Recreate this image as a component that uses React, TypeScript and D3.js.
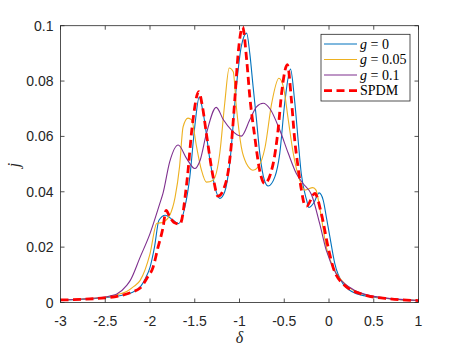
import React from "react";
import * as d3 from "d3";

type Pt = [number, number];

const xTicks = [-3, -2.5, -2, -1.5, -1, -0.5, 0, 0.5, 1];
const yTicks = [0, 0.02, 0.04, 0.06, 0.08, 0.1];

const g0: Pt[] = [
  [-3.0, 0.0009], [-2.75, 0.0012], [-2.5, 0.0017], [-2.3, 0.0027], [-2.2, 0.0036], [-2.1, 0.006],
  [-2.05, 0.0088], [-2.0, 0.0127], [-1.95, 0.02], [-1.9, 0.0297], [-1.83, 0.0315], [-1.74, 0.0297],
  [-1.685, 0.0285], [-1.61, 0.0345], [-1.555, 0.0454], [-1.5, 0.0635], [-1.45, 0.0742], [-1.405, 0.0684],
  [-1.33, 0.0514], [-1.275, 0.0418], [-1.22, 0.0376], [-1.165, 0.04], [-1.11, 0.05], [-1.035, 0.078],
  [-0.98, 0.0925], [-0.92, 0.0973], [-0.885, 0.09], [-0.848, 0.078], [-0.81, 0.066], [-0.774, 0.054],
  [-0.72, 0.044], [-0.68, 0.0421], [-0.605, 0.0454], [-0.55, 0.0539], [-0.495, 0.072], [-0.43, 0.0843],
  [-0.385, 0.0732], [-0.345, 0.0587], [-0.31, 0.0466], [-0.25, 0.037], [-0.225, 0.0343], [-0.17, 0.036],
  [-0.11, 0.0396], [-0.065, 0.037], [-0.025, 0.03], [0.01, 0.0237], [0.065, 0.014], [0.155, 0.0068],
  [0.305, 0.0032], [0.565, 0.0017], [1.0, 0.0007],
];

const g005: Pt[] = [
  [-3.0, 0.0009], [-2.5, 0.0019], [-2.35, 0.003], [-2.26, 0.004], [-2.18, 0.0058], [-2.11, 0.008],
  [-2.0, 0.0176], [-1.925, 0.0285], [-1.855, 0.029], [-1.78, 0.0315], [-1.72, 0.038], [-1.67, 0.049],
  [-1.63, 0.0635], [-1.575, 0.0666], [-1.535, 0.066], [-1.48, 0.0563], [-1.425, 0.0478], [-1.37, 0.0435],
  [-1.295, 0.0442], [-1.22, 0.054], [-1.165, 0.072], [-1.115, 0.0847], [-1.07, 0.0834], [-1.035, 0.0707],
  [-0.98, 0.0562], [-0.92, 0.05], [-0.85, 0.0478], [-0.79, 0.049], [-0.715, 0.056], [-0.64, 0.072],
  [-0.56, 0.081], [-0.51, 0.078], [-0.455, 0.066], [-0.4, 0.054], [-0.325, 0.044], [-0.27, 0.0406],
  [-0.18, 0.0415], [-0.145, 0.0406], [-0.105, 0.0345], [-0.03, 0.02], [0.045, 0.0128], [0.195, 0.0062],
  [0.4, 0.0028], [0.7, 0.0013], [1.0, 0.0007],
];

const g01: Pt[] = [
  [-3.0, 0.0009], [-2.5, 0.002], [-2.43, 0.0025], [-2.37, 0.0031], [-2.26, 0.0062], [-2.22, 0.008],
  [-2.11, 0.0164], [-2.0, 0.0249], [-1.89, 0.0358], [-1.855, 0.0394], [-1.78, 0.0508], [-1.685, 0.0569],
  [-1.59, 0.052], [-1.5, 0.0484], [-1.44, 0.0514], [-1.37, 0.061], [-1.26, 0.0705], [-1.18, 0.066],
  [-1.09, 0.0623], [-0.98, 0.0601], [-0.885, 0.066], [-0.81, 0.0707], [-0.735, 0.072], [-0.66, 0.07],
  [-0.55, 0.0623], [-0.455, 0.0539], [-0.365, 0.0466], [-0.29, 0.043], [-0.196, 0.039], [-0.104, 0.0285],
  [-0.03, 0.0188], [0.08, 0.0104], [0.23, 0.0055], [0.5, 0.0022], [1.0, 0.0007],
];

const spdm: Pt[] = [
  [-3.0, 0.0009], [-2.5, 0.0017], [-2.2, 0.0038], [-2.11, 0.0052], [-2.03, 0.009], [-1.965, 0.0128],
  [-1.91, 0.02], [-1.855, 0.027], [-1.82, 0.0333], [-1.78, 0.031], [-1.735, 0.029], [-1.665, 0.0283],
  [-1.59, 0.043], [-1.52, 0.066], [-1.455, 0.0762], [-1.415, 0.071], [-1.37, 0.061], [-1.295, 0.0454],
  [-1.24, 0.0384], [-1.145, 0.0442], [-1.09, 0.0575], [-1.05, 0.0744], [-1.015, 0.09], [-0.965, 0.0995],
  [-0.92, 0.0877], [-0.885, 0.0744], [-0.83, 0.06], [-0.775, 0.0478], [-0.72, 0.043], [-0.625, 0.05],
  [-0.57, 0.062], [-0.53, 0.0755], [-0.465, 0.0859], [-0.42, 0.0732], [-0.383, 0.0587], [-0.346, 0.049],
  [-0.308, 0.0406], [-0.27, 0.0351], [-0.25, 0.0348], [-0.158, 0.0394], [-0.085, 0.032], [-0.01, 0.02],
  [0.045, 0.0128], [0.155, 0.0068], [0.38, 0.0029], [0.68, 0.0013], [1.0, 0.0007],
];

const seriesNames = ["0", "0.05", "0.1", "SPDM"];
const seriesColors = ["#0072BD", "#EDB120", "#7E2F8E", "#FF0000"];

export default function App() {
  const W = 463, H = 348;
  const L = 60.5, R = 418.5, T = 25.7, B = 302.5;
  const x = d3.scaleLinear().domain([-3, 1]).range([L, R]);
  const y = d3.scaleLinear().domain([0, 0.1]).range([B, T]);
  const line = d3.line<Pt>().x(d => x(d[0])).y(d => y(d[1])).curve(d3.curveMonotoneX);
  const axisColor = "#262626";
  const tickLen = 4;
  const data = [g0, g005, g01, spdm];

  const legX = 321, legY = 34.3, legW = 89, legH = 66.7;
  const rowY = [44, 59.5, 75, 90.7];

  return (
    <svg width={W} height={H} style={{ position: "absolute", left: 0, top: 0, background: "#fff" }}>
      <rect x={0} y={0} width={W} height={H} fill="#fff" />
      {data.map((d, i) => (
        <path
          key={i}
          d={line(d) || ""}
          fill="none"
          stroke={seriesColors[i]}
          strokeWidth={i === 3 ? 2.8 : 1.1}
          strokeDasharray={i === 3 ? "8,4.5" : undefined}
          strokeLinejoin="round"
        />
      ))}
      <rect x={L} y={T} width={R - L} height={B - T} fill="none" stroke={axisColor} strokeWidth={0.8} />
      {xTicks.map(t => (
        <g key={"x" + t}>
          <line x1={x(t)} x2={x(t)} y1={B} y2={B - tickLen} stroke={axisColor} strokeWidth={0.8} />
          <line x1={x(t)} x2={x(t)} y1={T} y2={T + tickLen} stroke={axisColor} strokeWidth={0.8} />
          <text x={x(t)} y={326} textAnchor="middle" fontFamily="Liberation Sans, Arial, sans-serif" fontSize={14} fill={axisColor}>
            {String(t)}
          </text>
        </g>
      ))}
      {yTicks.map(t => (
        <g key={"y" + t}>
          <line x1={L} x2={L + tickLen} y1={y(t)} y2={y(t)} stroke={axisColor} strokeWidth={0.8} />
          <line x1={R} x2={R - tickLen} y1={y(t)} y2={y(t)} stroke={axisColor} strokeWidth={0.8} />
          <text x={53.5} y={y(t) + 5} textAnchor="end" fontFamily="Liberation Sans, Arial, sans-serif" fontSize={14} fill={axisColor}>
            {String(t)}
          </text>
        </g>
      ))}
      <text x={(L + R) / 2} y={343} textAnchor="middle" fontFamily="Liberation Serif, serif" fontStyle="italic" fontSize={16} fill={axisColor}>
        δ
      </text>
      <text transform="translate(19,165) rotate(-90)" textAnchor="middle" fontFamily="Liberation Serif, serif" fontStyle="italic" fontSize={16} fill={axisColor}>
        j
      </text>
      <rect x={legX} y={legY} width={legW} height={legH} fill="#fff" stroke={axisColor} strokeWidth={0.8} />
      {seriesNames.map((n, i) => (
        <g key={"l" + i}>
          <line
            x1={324}
            x2={357}
            y1={rowY[i]}
            y2={rowY[i]}
            stroke={seriesColors[i]}
            strokeWidth={i === 3 ? 2.8 : 1.1}
            strokeDasharray={i === 3 ? "8,4.5" : undefined}
          />
          <text x={360} y={rowY[i] + 4.5} fontFamily="Liberation Serif, serif" fontSize={14} fill="#000">
            {i < 3 ? (
              <>
                <tspan fontStyle="italic">g</tspan>
                <tspan dx={3.5}>=</tspan>
                <tspan dx={3.5}>{n}</tspan>
              </>
            ) : (
              n
            )}
          </text>
        </g>
      ))}
    </svg>
  );
}
